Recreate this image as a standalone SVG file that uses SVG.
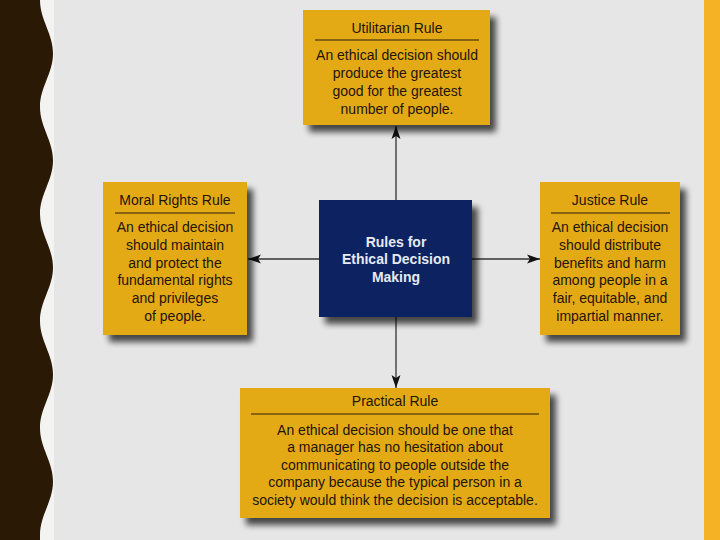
<svg xmlns="http://www.w3.org/2000/svg" width="720" height="540" viewBox="0 0 720 540">
  <defs>
    <filter id="sh" x="-10%" y="-10%" width="130%" height="130%">
      <feGaussianBlur in="SourceAlpha" stdDeviation="3"/>
      <feOffset dx="6" dy="7" result="b"/>
      <feComponentTransfer in="b" result="c"><feFuncA type="linear" slope="0.7"/></feComponentTransfer>
      <feMerge><feMergeNode in="c"/><feMergeNode in="SourceGraphic"/></feMerge>
    </filter>
    <marker id="ah" markerWidth="14" markerHeight="10" refX="13" refY="5" orient="auto" markerUnits="userSpaceOnUse">
      <path d="M0,0.5 L13,5 L0,9.5 L3,5 Z" fill="#111"/>
    </marker>
    <style>
      .box { fill: #e3aa16; filter: url(#sh); }
      .ctr { fill: #0c2461; filter: url(#sh); }
      .t { font-family: "Liberation Sans", Arial, sans-serif; font-size: 14px; fill: #24140a; text-anchor: middle; }
      .ct { font-family: "Liberation Sans", Arial, sans-serif; font-size: 14px; font-weight: bold; fill: #e6eaf2; text-anchor: middle; }
      .rule { stroke: #2b1a0c; stroke-width: 1; }
      .con { stroke: #333; stroke-width: 1.3; fill: none; marker-end: url(#ah); }
    </style>
  </defs>

  <!-- background -->
  <rect x="0" y="0" width="720" height="540" fill="#e6e6e6"/>
  <rect x="0" y="0" width="54" height="540" fill="#f3f3f1"/>
  <path d="M0,0 L40,0 C40,20 53,33.5 53,53.5 C53,73.5 40,87 40,107 C40,127 53,140.5 53,160.5 C53,180.5 40,194 40,214 C40,234 53,247.5 53,267.5 C53,287.5 40,301 40,321 C40,341 53,354.5 53,374.5 C53,394.5 40,408 40,428 C40,448 53,461.5 53,481.5 C53,501.5 40,515 40,535 L40,540 L0,540 Z" fill="#2a1a05"/>
  <rect x="704" y="0" width="16" height="540" fill="#f4b224"/>

  <!-- connectors -->
  <g id="connectors">
    <line class="con" x1="396" y1="200" x2="396" y2="126"/>
    <line class="con" x1="319" y1="259" x2="248" y2="259"/>
    <line class="con" x1="472" y1="259" x2="540" y2="259"/>
    <line class="con" x1="396" y1="317" x2="396" y2="388"/>
  </g>

  <g id="utilitarian">
    <rect class="box" x="303" y="10" width="187" height="115"/>
    <text class="t" x="397" y="33">Utilitarian Rule</text>
    <line class="rule" x1="315" y1="40" x2="479" y2="40"/>
    <text class="t" x="397" y="60">An ethical decision should</text>
    <text class="t" x="397" y="78">produce the greatest</text>
    <text class="t" x="397" y="96">good for the greatest</text>
    <text class="t" x="397" y="114">number of people.</text>
  </g>

  <g id="moral">
    <rect class="box" x="103" y="182" width="144" height="153"/>
    <text class="t" x="175" y="205">Moral Rights Rule</text>
    <line class="rule" x1="115" y1="213" x2="235" y2="213"/>
    <text class="t" x="175" y="232">An ethical decision</text>
    <text class="t" x="175" y="250">should maintain</text>
    <text class="t" x="175" y="268">and protect the</text>
    <text class="t" x="175" y="285">fundamental rights</text>
    <text class="t" x="175" y="303">and privileges</text>
    <text class="t" x="175" y="321">of people.</text>
  </g>

  <g id="center">
    <rect class="ctr" x="319" y="200" width="153" height="117"/>
    <text class="ct" x="396" y="247">Rules for</text>
    <text class="ct" x="396" y="264">Ethical Decision</text>
    <text class="ct" x="396" y="282">Making</text>
  </g>

  <g id="justice">
    <rect class="box" x="540" y="182" width="140" height="153"/>
    <text class="t" x="610" y="205">Justice Rule</text>
    <line class="rule" x1="551" y1="213" x2="670" y2="213"/>
    <text class="t" x="610" y="232">An ethical decision</text>
    <text class="t" x="610" y="250">should distribute</text>
    <text class="t" x="610" y="268">benefits and harm</text>
    <text class="t" x="610" y="285">among people in a</text>
    <text class="t" x="610" y="303">fair, equitable, and</text>
    <text class="t" x="610" y="321">impartial manner.</text>
  </g>

  <g id="practical">
    <rect class="box" x="240" y="388" width="310" height="130"/>
    <text class="t" x="395" y="406">Practical Rule</text>
    <line class="rule" x1="251" y1="414" x2="539" y2="414"/>
    <text class="t" x="395" y="435">An ethical decision should be one that</text>
    <text class="t" x="395" y="452">a manager has no hesitation about</text>
    <text class="t" x="395" y="470">communicating to people outside the</text>
    <text class="t" x="395" y="487">company because the typical person in a</text>
    <text class="t" x="395" y="505">society would think the decision is acceptable.</text>
  </g>
</svg>
